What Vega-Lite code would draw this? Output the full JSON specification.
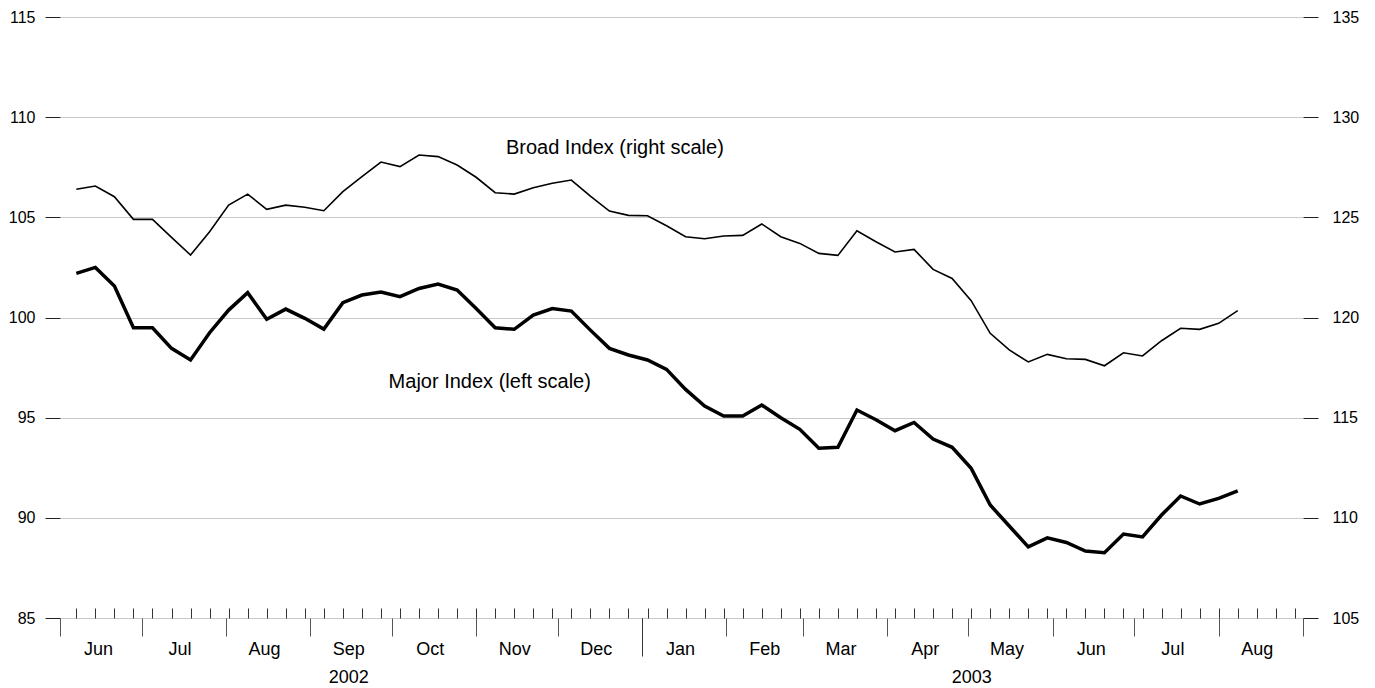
{
  "$schema": "https://vega.github.io/schema/vega-lite/v6.json",
  "width": 1243,
  "height": 601,
  "autosize": "none",
  "padding": {"left": 60, "top": 17, "right": 72, "bottom": 70},
  "background": "white",
  "config": {
    "view": {"stroke": null},
    "font": "Liberation Sans",
    "axis": {"labelFont": "Liberation Sans", "labelColor": "#000", "title": null, "domain": false, "grid": false, "labelFlush": false, "labelOverlap": false, "labelBound": false}
  },
  "datasets": {
    "series": [
      {"date": "2002-06-07", "major": 102.20, "broad": 126.40},
      {"date": "2002-06-14", "major": 102.50, "broad": 126.56},
      {"date": "2002-06-21", "major": 101.57, "broad": 126.03},
      {"date": "2002-06-28", "major": 99.49, "broad": 124.90},
      {"date": "2002-07-05", "major": 99.49, "broad": 124.90},
      {"date": "2002-07-12", "major": 98.46, "broad": 124.00},
      {"date": "2002-07-19", "major": 97.88, "broad": 123.12},
      {"date": "2002-07-26", "major": 99.24, "broad": 124.28},
      {"date": "2002-08-02", "major": 100.37, "broad": 125.61},
      {"date": "2002-08-09", "major": 101.24, "broad": 126.16},
      {"date": "2002-08-16", "major": 99.91, "broad": 125.40},
      {"date": "2002-08-23", "major": 100.42, "broad": 125.61},
      {"date": "2002-08-30", "major": 99.96, "broad": 125.50},
      {"date": "2002-09-06", "major": 99.42, "broad": 125.33},
      {"date": "2002-09-13", "major": 100.74, "broad": 126.28},
      {"date": "2002-09-20", "major": 101.12, "broad": 127.03},
      {"date": "2002-09-27", "major": 101.27, "broad": 127.76},
      {"date": "2002-10-04", "major": 101.04, "broad": 127.53},
      {"date": "2002-10-11", "major": 101.45, "broad": 128.11},
      {"date": "2002-10-18", "major": 101.67, "broad": 128.03},
      {"date": "2002-10-25", "major": 101.37, "broad": 127.61},
      {"date": "2002-11-01", "major": 100.45, "broad": 127.00},
      {"date": "2002-11-08", "major": 99.49, "broad": 126.23},
      {"date": "2002-11-15", "major": 99.41, "broad": 126.16},
      {"date": "2002-11-22", "major": 100.12, "broad": 126.48},
      {"date": "2002-11-29", "major": 100.45, "broad": 126.70},
      {"date": "2002-12-06", "major": 100.32, "broad": 126.86},
      {"date": "2002-12-13", "major": 99.37, "broad": 126.06},
      {"date": "2002-12-20", "major": 98.46, "broad": 125.31},
      {"date": "2002-12-27", "major": 98.13, "broad": 125.10},
      {"date": "2003-01-03", "major": 97.88, "broad": 125.08},
      {"date": "2003-01-10", "major": 97.41, "broad": 124.58},
      {"date": "2003-01-17", "major": 96.41, "broad": 124.03},
      {"date": "2003-01-24", "major": 95.58, "broad": 123.93},
      {"date": "2003-01-31", "major": 95.08, "broad": 124.07},
      {"date": "2003-02-07", "major": 95.08, "broad": 124.10},
      {"date": "2003-02-14", "major": 95.63, "broad": 124.67},
      {"date": "2003-02-21", "major": 95.00, "broad": 124.03},
      {"date": "2003-02-28", "major": 94.42, "broad": 123.70},
      {"date": "2003-03-07", "major": 93.47, "broad": 123.20},
      {"date": "2003-03-14", "major": 93.52, "broad": 123.10},
      {"date": "2003-03-21", "major": 95.38, "broad": 124.33},
      {"date": "2003-03-28", "major": 94.90, "broad": 123.78},
      {"date": "2003-04-04", "major": 94.35, "broad": 123.27},
      {"date": "2003-04-11", "major": 94.76, "broad": 123.40},
      {"date": "2003-04-18", "major": 93.93, "broad": 122.40},
      {"date": "2003-04-25", "major": 93.52, "broad": 121.95},
      {"date": "2003-05-02", "major": 92.47, "broad": 120.84},
      {"date": "2003-05-09", "major": 90.64, "broad": 119.21},
      {"date": "2003-05-16", "major": 89.59, "broad": 118.38},
      {"date": "2003-05-23", "major": 88.55, "broad": 117.78},
      {"date": "2003-05-30", "major": 89.00, "broad": 118.16},
      {"date": "2003-06-06", "major": 88.77, "broad": 117.94},
      {"date": "2003-06-13", "major": 88.34, "broad": 117.91},
      {"date": "2003-06-20", "major": 88.26, "broad": 117.59},
      {"date": "2003-06-27", "major": 89.19, "broad": 118.24},
      {"date": "2003-07-04", "major": 89.05, "broad": 118.08},
      {"date": "2003-07-11", "major": 90.14, "broad": 118.84},
      {"date": "2003-07-18", "major": 91.09, "broad": 119.46},
      {"date": "2003-07-25", "major": 90.69, "broad": 119.41},
      {"date": "2003-08-01", "major": 90.97, "broad": 119.71},
      {"date": "2003-08-08", "major": 91.34, "broad": 120.34}
    ],
    "notes": [
      {"date": "2002-12-22", "v": 108.46, "label": "Broad Index (right scale)"},
      {"date": "2002-11-06", "v": 96.8, "label": "Major Index (left scale)"}
    ]
  },
  "layer": [
    {
      "data": {"name": "series"},
      "mark": {"type": "line", "color": "#000", "strokeWidth": 3.5},
      "encoding": {
        "x": {
          "field": "date", "type": "temporal",
          "scale": {"type": "utc", "domain": [{"year": 2002, "month": 6, "date": 1, "utc": true}, {"year": 2003, "month": 9, "date": 1, "utc": true}]},
          "axis": {
            "orient": "bottom",
            "values": [
              {"year": 2002, "month": 6, "date": 1, "utc": true},
              {"year": 2002, "month": 7, "date": 1, "utc": true},
              {"year": 2002, "month": 8, "date": 1, "utc": true},
              {"year": 2002, "month": 9, "date": 1, "utc": true},
              {"year": 2002, "month": 10, "date": 1, "utc": true},
              {"year": 2002, "month": 11, "date": 1, "utc": true},
              {"year": 2002, "month": 12, "date": 1, "utc": true},
              {"year": 2003, "month": 1, "date": 1, "utc": true},
              {"year": 2003, "month": 2, "date": 1, "utc": true},
              {"year": 2003, "month": 3, "date": 1, "utc": true},
              {"year": 2003, "month": 4, "date": 1, "utc": true},
              {"year": 2003, "month": 5, "date": 1, "utc": true},
              {"year": 2003, "month": 6, "date": 1, "utc": true},
              {"year": 2003, "month": 7, "date": 1, "utc": true},
              {"year": 2003, "month": 8, "date": 1, "utc": true},
              {"year": 2003, "month": 9, "date": 1, "utc": true}
            ],
            "tickSize": 18, "tickColor": "#555", "tickWidth": 1,
            "labelExpr": "(utcyear(datum.value) === 2003 && utcmonth(datum.value) === 8) ? '' : utcFormat(datum.value, '%b')",
            "labelOffset": 38, "labelPadding": 4, "labelFontSize": 18, "labelAlign": "center"
          }
        },
        "y": {
          "field": "major", "type": "quantitative",
          "scale": {"domain": [85, 115], "zero": false, "nice": false},
          "axis": {
            "orient": "left", "values": [85, 90, 95, 100, 105, 110, 115],
            "grid": true, "gridColor": "#c8c8c8", "gridWidth": 1,
            "tickSize": 15, "tickColor": "#222", "labelPadding": 10, "labelFontSize": 16, "zindex": 0
          }
        }
      }
    },
    {
      "data": {"name": "series"},
      "mark": {"type": "line", "color": "#000", "strokeWidth": 1.6},
      "encoding": {
        "x": {
          "field": "date", "type": "temporal",
          "scale": {"type": "utc", "domain": [{"year": 2002, "month": 6, "date": 1, "utc": true}, {"year": 2003, "month": 9, "date": 1, "utc": true}]},
          "axis": {
            "orient": "bottom", "labels": false, "tickSize": -10, "tickColor": "#333", "tickWidth": 1,
            "values": [
              {"year": 2002, "month": 6, "date": 7, "utc": true}, {"year": 2002, "month": 6, "date": 14, "utc": true}, {"year": 2002, "month": 6, "date": 21, "utc": true}, {"year": 2002, "month": 6, "date": 28, "utc": true},
              {"year": 2002, "month": 7, "date": 5, "utc": true}, {"year": 2002, "month": 7, "date": 12, "utc": true}, {"year": 2002, "month": 7, "date": 19, "utc": true}, {"year": 2002, "month": 7, "date": 26, "utc": true},
              {"year": 2002, "month": 8, "date": 2, "utc": true}, {"year": 2002, "month": 8, "date": 9, "utc": true}, {"year": 2002, "month": 8, "date": 16, "utc": true}, {"year": 2002, "month": 8, "date": 23, "utc": true}, {"year": 2002, "month": 8, "date": 30, "utc": true},
              {"year": 2002, "month": 9, "date": 6, "utc": true}, {"year": 2002, "month": 9, "date": 13, "utc": true}, {"year": 2002, "month": 9, "date": 20, "utc": true}, {"year": 2002, "month": 9, "date": 27, "utc": true},
              {"year": 2002, "month": 10, "date": 4, "utc": true}, {"year": 2002, "month": 10, "date": 11, "utc": true}, {"year": 2002, "month": 10, "date": 18, "utc": true}, {"year": 2002, "month": 10, "date": 25, "utc": true},
              {"year": 2002, "month": 11, "date": 1, "utc": true}, {"year": 2002, "month": 11, "date": 8, "utc": true}, {"year": 2002, "month": 11, "date": 15, "utc": true}, {"year": 2002, "month": 11, "date": 22, "utc": true}, {"year": 2002, "month": 11, "date": 29, "utc": true},
              {"year": 2002, "month": 12, "date": 6, "utc": true}, {"year": 2002, "month": 12, "date": 13, "utc": true}, {"year": 2002, "month": 12, "date": 20, "utc": true}, {"year": 2002, "month": 12, "date": 27, "utc": true},
              {"year": 2003, "month": 1, "date": 3, "utc": true}, {"year": 2003, "month": 1, "date": 10, "utc": true}, {"year": 2003, "month": 1, "date": 17, "utc": true}, {"year": 2003, "month": 1, "date": 24, "utc": true}, {"year": 2003, "month": 1, "date": 31, "utc": true},
              {"year": 2003, "month": 2, "date": 7, "utc": true}, {"year": 2003, "month": 2, "date": 14, "utc": true}, {"year": 2003, "month": 2, "date": 21, "utc": true}, {"year": 2003, "month": 2, "date": 28, "utc": true},
              {"year": 2003, "month": 3, "date": 7, "utc": true}, {"year": 2003, "month": 3, "date": 14, "utc": true}, {"year": 2003, "month": 3, "date": 21, "utc": true}, {"year": 2003, "month": 3, "date": 28, "utc": true},
              {"year": 2003, "month": 4, "date": 4, "utc": true}, {"year": 2003, "month": 4, "date": 11, "utc": true}, {"year": 2003, "month": 4, "date": 18, "utc": true}, {"year": 2003, "month": 4, "date": 25, "utc": true},
              {"year": 2003, "month": 5, "date": 2, "utc": true}, {"year": 2003, "month": 5, "date": 9, "utc": true}, {"year": 2003, "month": 5, "date": 16, "utc": true}, {"year": 2003, "month": 5, "date": 23, "utc": true}, {"year": 2003, "month": 5, "date": 30, "utc": true},
              {"year": 2003, "month": 6, "date": 6, "utc": true}, {"year": 2003, "month": 6, "date": 13, "utc": true}, {"year": 2003, "month": 6, "date": 20, "utc": true}, {"year": 2003, "month": 6, "date": 27, "utc": true},
              {"year": 2003, "month": 7, "date": 4, "utc": true}, {"year": 2003, "month": 7, "date": 11, "utc": true}, {"year": 2003, "month": 7, "date": 18, "utc": true}, {"year": 2003, "month": 7, "date": 25, "utc": true},
              {"year": 2003, "month": 8, "date": 1, "utc": true}, {"year": 2003, "month": 8, "date": 8, "utc": true}, {"year": 2003, "month": 8, "date": 15, "utc": true}, {"year": 2003, "month": 8, "date": 22, "utc": true}, {"year": 2003, "month": 8, "date": 29, "utc": true}
            ]
          }
        },
        "y": {
          "field": "broad", "type": "quantitative",
          "scale": {"domain": [105, 135], "zero": false, "nice": false},
          "axis": {
            "orient": "right", "values": [105, 110, 115, 120, 125, 130, 135],
            "grid": false, "tickSize": 15, "tickColor": "#222", "labelPadding": 14, "labelFontSize": 16
          }
        }
      }
    },
    {
      "data": {"name": "notes"},
      "transform": [{"filter": "datum.label === 'Broad Index (right scale)'"}],
      "mark": {"type": "text", "font": "Liberation Sans", "fontSize": 20, "color": "#000", "align": "center", "baseline": "middle"},
      "encoding": {
        "x": {
          "field": "date", "type": "temporal",
          "scale": {"type": "utc", "domain": [{"year": 2002, "month": 6, "date": 1, "utc": true}, {"year": 2003, "month": 9, "date": 1, "utc": true}]},
          "axis": {
            "orient": "bottom", "ticks": false, "tickSize": 0, "labelPadding": 50, "labelFontSize": 18, "labelAlign": "center",
            "values": [{"year": 2002, "month": 9, "date": 15, "utc": true}, {"year": 2003, "month": 5, "date": 2, "utc": true}],
            "labelExpr": "utcFormat(datum.value, '%Y')"
          }
        },
        "y": {"field": "v", "type": "quantitative", "scale": {"domain": [85, 115], "zero": false, "nice": false}, "axis": null},
        "text": {"field": "label"}
      }
    },
    {
      "data": {"name": "notes"},
      "transform": [{"filter": "datum.label === 'Major Index (left scale)'"}],
      "mark": {"type": "text", "font": "Liberation Sans", "fontSize": 20, "color": "#000", "align": "center", "baseline": "middle"},
      "encoding": {
        "x": {
          "field": "date", "type": "temporal",
          "scale": {"type": "utc", "domain": [{"year": 2002, "month": 6, "date": 1, "utc": true}, {"year": 2003, "month": 9, "date": 1, "utc": true}]},
          "axis": {
            "orient": "bottom", "labels": false, "tickSize": 38, "tickColor": "#333", "tickWidth": 1,
            "values": [{"year": 2003, "month": 1, "date": 1, "utc": true}]
          }
        },
        "y": {"field": "v", "type": "quantitative", "scale": {"domain": [85, 115], "zero": false, "nice": false}, "axis": null},
        "text": {"field": "label"}
      }
    }
  ],
  "resolve": {
    "scale": {"y": "independent"},
    "axis": {"x": "independent", "y": "independent"}
  }
}
